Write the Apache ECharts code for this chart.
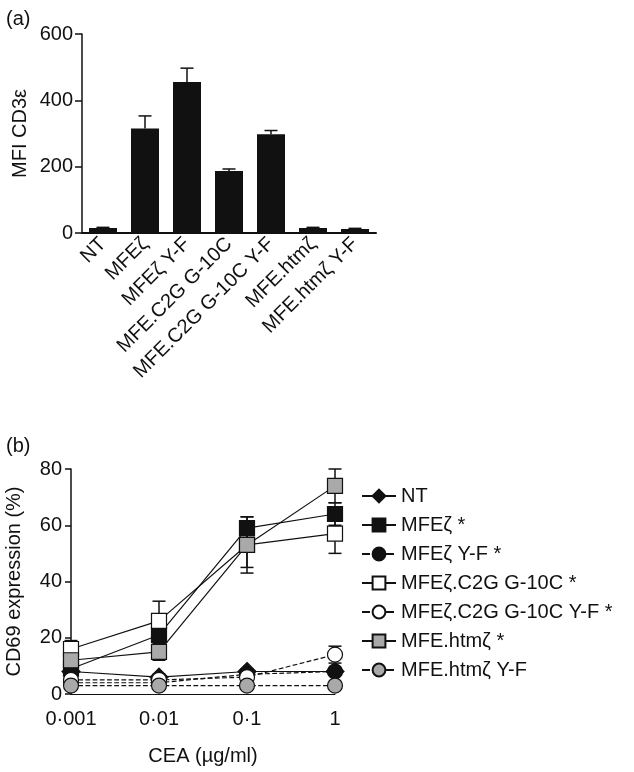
<!DOCTYPE html>
<html>
<head>
<meta charset="utf-8">
<script src="https://cdn.jsdelivr.net/npm/echarts@6/dist/echarts.min.js"></script>
<style>
  html, body { margin: 0; padding: 0; background: #fff; }
  #main { width: 634px; height: 772px; }
</style>
</head>
<body>
<div id="main"></div>
<script>
(function() {
    'use strict';

    // (a) MFI CD3e bars
    var barCategories = ['NT', 'MFEζ', 'MFEζ Y-F', 'MFE.C2G G-10C', 'MFE.C2G G-10C Y-F', 'MFE.htmζ', 'MFE.htmζ Y-F'];
    var barValues = [15, 315, 455, 187, 298, 15, 12];
    var barErrors = [2, 38, 42, 6, 11, 2, 2];

    // (b) CD69 expression vs CEA
    var concentrations = [0.001, 0.01, 0.1, 1];
    var ntValues = [8, 6, 8, 8];
    var ntErrors = [1, 1, 1, 1];
    var mfeValues = [9, 21, 59, 64];
    var mfeErrors = [2, 2, 4, 4];
    var mfeYFValues = [4, 4, 7, 8];
    var mfeYFErrors = [1, 1, 1, 1];
    var c2gValues = [16, 26, 53, 57];
    var c2gErrors = [3, 7, 10, 7];
    var c2gYFValues = [5, 5, 6, 14];
    var c2gYFErrors = [1, 1, 1, 3];
    var htmValues = [12, 15, 53, 74];
    var htmErrors = [4.5, 3, 8, 6];
    var htmYFValues = [3, 3, 3, 3];
    var htmYFErrors = [0.5, 0.5, 0.5, 0.5];

    var FONT = "'Liberation Sans', Arial, sans-serif";
    var INK = '#111';
    var GREY = '#a9a9a9';

    var errorBars = function(capHalf) {
        return function(params, api) {
            var x = api.value(0), y = api.value(1), e = api.value(2), lo = api.value(3);
            var top = api.coord([x, y + e]);
            var bot = api.coord([x, lo ? y - e : y]);
            var style = { stroke: INK, lineWidth: 1.5 };
            var kids = [
                { type: 'line', shape: { x1: top[0], y1: top[1], x2: bot[0], y2: bot[1] }, style: style },
                { type: 'line', shape: { x1: top[0] - capHalf, y1: top[1], x2: top[0] + capHalf, y2: top[1] }, style: style }
            ];
            if (lo) {
                kids.push({ type: 'line', shape: { x1: bot[0] - capHalf, y1: bot[1], x2: bot[0] + capHalf, y2: bot[1] }, style: style });
            }
            return { type: 'group', children: kids };
        };
    };

    var pairs = function(values) {
        return concentrations.map(function(c, i) { return [c, values[i]]; });
    };
    var errPairs = function(values, errors) {
        return concentrations.map(function(c, i) { return [c, values[i], errors[i], 1]; });
    };

    var lineDefs = [
        { name: 'NT', values: ntValues, errors: ntErrors, symbol: 'diamond', size: 18, fill: INK, dash: 'solid' },
        { name: 'MFEζ *', values: mfeValues, errors: mfeErrors, symbol: 'rect', size: 15, fill: INK, dash: 'solid' },
        { name: 'MFEζ Y-F *', values: mfeYFValues, errors: mfeYFErrors, symbol: 'circle', size: 15, fill: INK, dash: 'dashed' },
        { name: 'MFEζ.C2G G-10C *', values: c2gValues, errors: c2gErrors, symbol: 'rect', size: 15, fill: '#fff', dash: 'solid' },
        { name: 'MFEζ.C2G G-10C Y-F *', values: c2gYFValues, errors: c2gYFErrors, symbol: 'circle', size: 15, fill: '#fff', dash: 'dashed' },
        { name: 'MFE.htmζ *', values: htmValues, errors: htmErrors, symbol: 'rect', size: 15, fill: GREY, dash: 'solid' },
        { name: 'MFE.htmζ Y-F', values: htmYFValues, errors: htmYFErrors, symbol: 'circle', size: 15, fill: GREY, dash: 'dashed' }
    ];

    var series = [
        {
            type: 'bar', xAxisIndex: 0, yAxisIndex: 0,
            data: barValues, barWidth: 28,
            itemStyle: { color: INK }, silent: true
        },
        {
            type: 'custom', xAxisIndex: 0, yAxisIndex: 0,
            renderItem: errorBars(6.5),
            data: barValues.map(function(v, i) { return [i, v, barErrors[i], 0]; }),
            z: 3, silent: true
        }
    ];

    lineDefs.forEach(function(d) {
        series.push({
            type: 'custom', xAxisIndex: 1, yAxisIndex: 1,
            renderItem: errorBars(6.5),
            data: errPairs(d.values, d.errors),
            z: 1, silent: true, clip: false
        });
    });
    lineDefs.forEach(function(d, i) {
        series.push({
            name: d.name, type: 'line', xAxisIndex: 1, yAxisIndex: 1,
            data: pairs(d.values),
            symbol: d.symbol, symbolSize: d.size, clip: false,
            lineStyle: { color: INK, width: 1.2, type: d.dash },
            itemStyle: { color: d.fill, borderColor: INK, borderWidth: 1.2 },
            z: 2 + i, silent: true
        });
    });

    var axisText = { fontFamily: FONT, fontSize: 20, color: INK };

    var option = {
        animation: false,
        backgroundColor: '#fff',
        textStyle: { fontFamily: FONT, color: INK },
        title: [
            { text: '(a)', left: 1, top: 4, textStyle: { fontFamily: FONT, fontSize: 20, fontWeight: 'normal', color: INK } },
            { text: '(b)', left: 1, top: 431, textStyle: { fontFamily: FONT, fontSize: 20, fontWeight: 'normal', color: INK } }
        ],
        legend: {
            data: lineDefs.map(function(d) { return d.name; }),
            orient: 'vertical',
            left: 356, top: 481,
            itemWidth: 34, itemHeight: 16, itemGap: 9,
            textStyle: { fontFamily: FONT, fontSize: 20, color: INK },
            selectedMode: false
        },
        grid: [
            { left: 82, top: 34, width: 294, height: 199 },
            { left: 71, top: 469, width: 264, height: 225 }
        ],
        xAxis: [
            {
                type: 'category', gridIndex: 0, data: barCategories,
                axisLine: { lineStyle: { color: INK, width: 2 } },
                axisTick: { show: false },
                axisLabel: Object.assign({ rotate: 45, margin: 8, interval: 0 }, axisText)
            },
            {
                type: 'log', gridIndex: 1, min: 0.001, max: 1, logBase: 10,
                name: 'CEA (µg/ml)', nameLocation: 'middle', nameGap: 52,
                nameTextStyle: axisText,
                axisLine: { lineStyle: { color: INK, width: 1 } },
                axisTick: { show: false },
                splitLine: { show: false },
                axisLabel: Object.assign({
                    margin: 15,
                    formatter: function(v) { return String(+v.toPrecision(3)).replace('.', '·'); }
                }, axisText)
            }
        ],
        yAxis: [
            {
                type: 'value', gridIndex: 0, min: 0, max: 600, interval: 200,
                name: 'MFI CD3ε', nameLocation: 'middle', nameGap: 52,
                nameTextStyle: axisText,
                axisLine: { show: true, lineStyle: { color: INK, width: 1.5 } },
                axisTick: { show: true, length: 7, lineStyle: { color: INK, width: 1.5 } },
                splitLine: { show: false },
                axisLabel: Object.assign({ margin: 9 }, axisText)
            },
            {
                type: 'value', gridIndex: 1, min: 0, max: 80, interval: 20,
                name: 'CD69 expression (%)', nameLocation: 'middle', nameGap: 47,
                nameTextStyle: axisText,
                axisLine: { show: true, lineStyle: { color: INK, width: 1.5 } },
                axisTick: { show: true, length: 6, lineStyle: { color: INK, width: 1.5 } },
                splitLine: { show: false },
                axisLabel: Object.assign({ margin: 9 }, axisText)
            }
        ],
        series: series
    };

    var chart = echarts.init(document.getElementById('main'), null, { renderer: 'canvas' });
    chart.setOption(option);
})();
</script>
</body>
</html>
